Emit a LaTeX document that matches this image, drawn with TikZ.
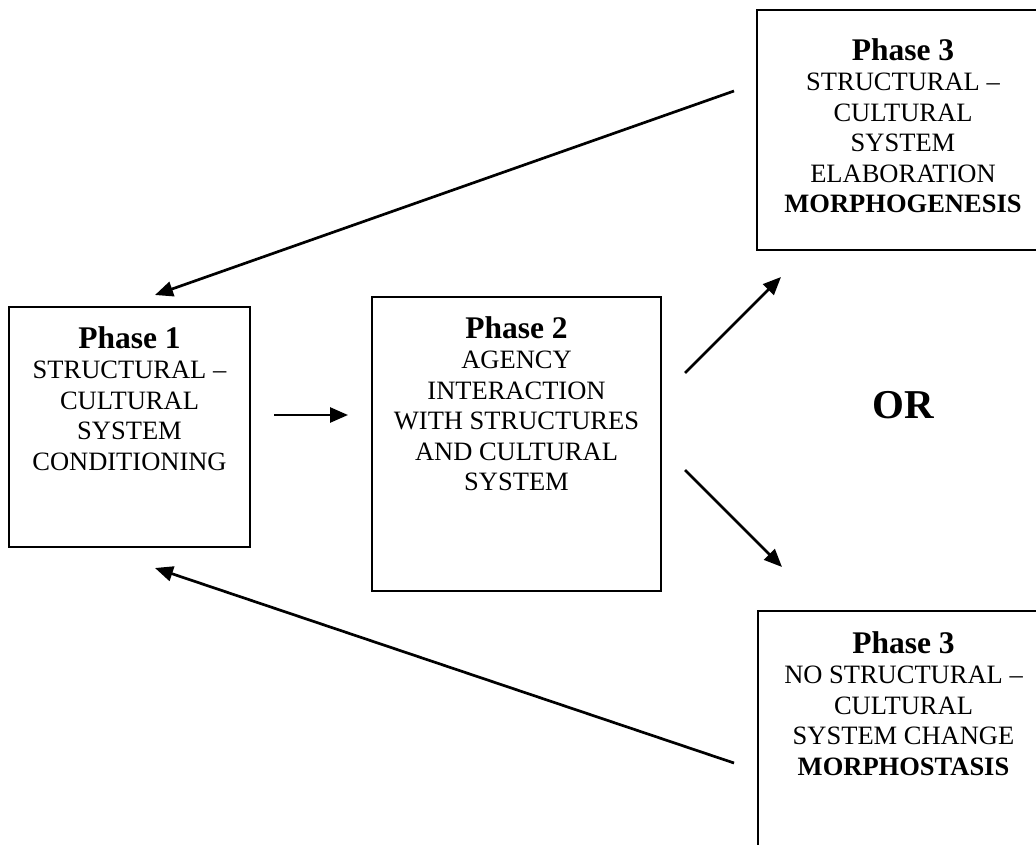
\documentclass[tikz,border=0pt]{standalone}
\usepackage{fontspec}
\setmainfont{Liberation Serif}
\usetikzlibrary{arrows.meta}
\begin{document}
\begin{tikzpicture}[x=1pt,y=-1pt,
  phasebox/.style={draw,line width=1.8pt,inner sep=0pt},
  phasetext/.style={anchor=north,align=center,inner sep=0pt,
    font=\fontsize{26.5}{30.5}\selectfont},
  flow/.style={line width=2.7pt,-{Triangle[length=18pt,width=15pt]}}]
\useasboundingbox (0,0) rectangle (1036,845);

% boxes
\node[phasebox,minimum width=241pt,minimum height=240pt] (b1) at (129.5,427) {};
\node[phasebox,minimum width=289pt,minimum height=294pt] (b2) at (516.5,444) {};
\node[phasebox,minimum width=292pt,minimum height=240pt] (b3) at (903,130) {};
\node[phasebox,minimum width=291pt,minimum height=240pt] (b4) at (903.5,731) {};

% box texts
\node[phasetext] (t1) at (129.5,326) {{\fontsize{31.5}{30.5}\selectfont\bfseries Phase 1}\\
  STRUCTURAL –\\ CULTURAL\\ SYSTEM\\ CONDITIONING};
\node[phasetext] (t2) at (516.5,316) {{\fontsize{31.5}{30.5}\selectfont\bfseries Phase 2}\\
  AGENCY\\ INTERACTION\\ WITH STRUCTURES\\ AND CULTURAL\\ SYSTEM};
\node[phasetext] (t3) at (903,38) {{\fontsize{31.5}{30.5}\selectfont\bfseries Phase 3}\\
  STRUCTURAL –\\ CULTURAL\\ SYSTEM\\ ELABORATION\\ \textbf{MORPHOGENESIS}};
\node[phasetext] (t4) at (903.5,631) {{\fontsize{31.5}{30.5}\selectfont\bfseries Phase 3}\\
  NO STRUCTURAL –\\ CULTURAL\\ SYSTEM CHANGE\\ \textbf{MORPHOSTASIS}};

\node[anchor=base,inner sep=0pt,font=\fontsize{41}{45}\selectfont\bfseries] (or) at (903,418) {OR};

% connector end points
\coordinate (a12s) at (274,415);
\coordinate (a12e) at (348,415);
\coordinate (upS) at (685,373);
\coordinate (upE) at (781,277);
\coordinate (dnS) at (685,470);
\coordinate (dnE) at (782,567);
\coordinate (topS) at (734,91);
\coordinate (topE) at (155,295);
\coordinate (botS) at (734,763);
\coordinate (botE) at (155,568);

\draw[flow] (a12s) -- (a12e);
\draw[flow] (upS) -- (upE);
\draw[flow] (dnS) -- (dnE);
\draw[flow] (topS) -- (topE);
\draw[flow] (botS) -- (botE);
\end{tikzpicture}
\end{document}
